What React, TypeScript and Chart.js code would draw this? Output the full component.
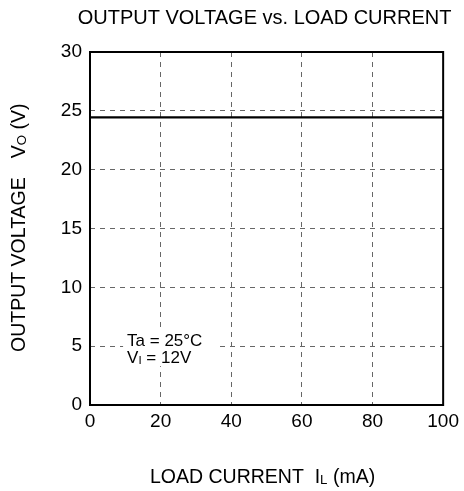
import React, { useEffect, useRef } from 'react';
import { Chart, registerables } from 'chart.js';

Chart.register(...registerables);

// ---- data ----
const loadCurrent = [0, 20, 40, 60, 80, 100]; // mA
const outputVoltage = [24.45, 24.45, 24.45, 24.45, 24.45, 24.45]; // V
const xRange = [0, 100];
const yRange = [0, 30];
const xStep = 20;
const yStep = 5;
const chartTitle = 'OUTPUT VOLTAGE vs. LOAD CURRENT';
const xTitleParts = [
  { text: 'LOAD CURRENT  I' },
  { text: 'L', sub: true },
  { text: ' (mA)' },
];
const yTitleMain = 'OUTPUT VOLTAGE';
const yTitleParts = [
  { text: 'V' },
  { text: 'O', sub: true },
  { text: ' (V)' },
];
const noteLine1 = [{ text: 'Ta = 25°C' }];
const noteLine2 = [{ text: 'V' }, { text: 'I', sub: true }, { text: ' = 12V' }];
const notePos = { x: 10.5, y: 5 };

const FONT = "'Liberation Sans', Arial, Helvetica, sans-serif";

type Part = { text: string; sub?: boolean };

function partsWidth(ctx: CanvasRenderingContext2D, parts: Part[], size: number) {
  let w = 0;
  for (const p of parts) {
    ctx.font = `${p.sub ? size * 0.68 : size}px ${FONT}`;
    w += ctx.measureText(p.text).width;
  }
  return w;
}

function drawParts(ctx: CanvasRenderingContext2D, parts: Part[], x: number, y: number, size: number) {
  let cx = x;
  ctx.textAlign = 'left';
  ctx.textBaseline = 'alphabetic';
  for (const p of parts) {
    const s = p.sub ? size * 0.68 : size;
    ctx.font = `${s}px ${FONT}`;
    ctx.fillText(p.text, cx, y + (p.sub ? size * 0.06 : 0));
    cx += ctx.measureText(p.text).width;
  }
  return cx;
}

const decorPlugin = {
  id: 'decor',
  beforeDatasetsDraw(chart: any) {
    const { ctx, scales } = chart;
    const x0 = scales.x.getPixelForValue(notePos.x);
    const y0 = scales.y.getPixelForValue(notePos.y);
    ctx.save();
    ctx.fillStyle = '#ffffff';
    ctx.fillRect(x0 - 4, y0 - 15, 93, 35);
    ctx.fillStyle = '#000000';
    drawParts(ctx, noteLine1, x0, y0, 17);
    drawParts(ctx, noteLine2, x0, y0 + 16.5, 17);
    ctx.restore();
  },
  afterDatasetsDraw(chart: any) {
    const { ctx, chartArea } = chart;
    ctx.save();
    ctx.strokeStyle = '#000000';
    ctx.lineWidth = 2;
    ctx.strokeRect(chartArea.left, chartArea.top, chartArea.right - chartArea.left, chartArea.bottom - chartArea.top);
    ctx.restore();
  },
  afterDraw(chart: any) {
    const { ctx, chartArea } = chart;
    const cx = (chartArea.left + chartArea.right) / 2;
    ctx.save();
    ctx.fillStyle = '#000000';
    // main title
    ctx.font = `20px ${FONT}`;
    ctx.textAlign = 'center';
    ctx.textBaseline = 'alphabetic';
    ctx.fillText(chartTitle, cx - 2, 23.5);
    // x title
    const xw = partsWidth(ctx, xTitleParts, 19.5);
    drawParts(ctx, xTitleParts, cx - 4 - xw / 2, 483, 19.5);
    // y title (rotated)
    ctx.save();
    ctx.translate(25, 352);
    ctx.rotate(-Math.PI / 2);
    ctx.font = `19.5px ${FONT}`;
    ctx.textAlign = 'left';
    ctx.fillText(yTitleMain, 0, 0);
    const mw = ctx.measureText(yTitleMain).width;
    drawParts(ctx, yTitleParts, mw + 19, 0, 19.5);
    ctx.restore();
    ctx.restore();
  },
};

export default function App() {
  const ref = useRef<HTMLCanvasElement | null>(null);
  useEffect(() => {
    if (!ref.current) return;
    const chart = new Chart(ref.current, {
      type: 'line',
      data: {
        datasets: [
          {
            data: loadCurrent.map((x, i) => ({ x, y: outputVoltage[i] })),
            borderColor: '#000000',
            borderWidth: 2.2,
            pointRadius: 0,
            fill: false,
            tension: 0,
          },
        ],
      },
      options: {
        responsive: false,
        animation: false,
        devicePixelRatio: 1,
        layout: { padding: { top: 52, right: 18, left: 0, bottom: 0 } },
        plugins: {
          legend: { display: false },
          tooltip: { enabled: false },
          title: { display: false },
        },
        scales: {
          x: {
            type: 'linear',
            min: xRange[0],
            max: xRange[1],
            ticks: {
              stepSize: xStep,
              padding: 5,
              color: '#000000',
              font: { family: FONT, size: 19 },
              maxRotation: 0,
            },
            grid: { color: '#666666', lineWidth: 1, drawTicks: false },
            border: { display: false, dash: [5, 5] },
            afterFit: (s: any) => {
              s.height = 86;
            },
          },
          y: {
            type: 'linear',
            min: yRange[0],
            max: yRange[1],
            ticks: {
              stepSize: yStep,
              padding: 8,
              color: '#000000',
              font: { family: FONT, size: 19 },
            },
            grid: { color: '#666666', lineWidth: 1, drawTicks: false },
            border: { display: false, dash: [5, 5] },
            afterFit: (s: any) => {
              s.width = 90;
            },
          },
        },
      },
      plugins: [decorPlugin],
    });
    return () => chart.destroy();
  }, []);
  return (
    <div style={{ position: 'fixed', left: 0, top: 0, width: 464, height: 491, background: '#fff' }}>
      <canvas ref={ref} width={464} height={491} style={{ width: 464, height: 491, display: 'block' }} />
    </div>
  );
}
